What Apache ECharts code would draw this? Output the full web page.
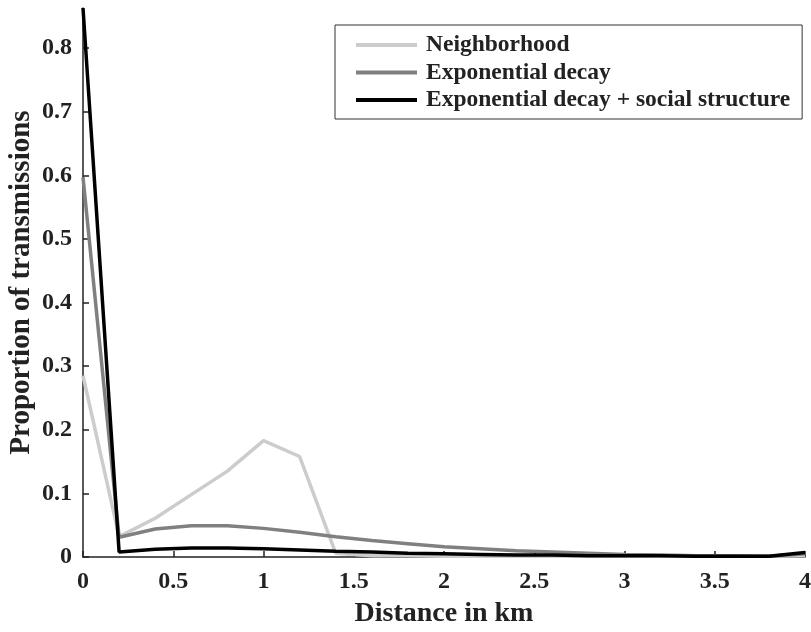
<!DOCTYPE html>
<html>
<head>
<meta charset="utf-8">
<script src="https://cdn.jsdelivr.net/npm/echarts@6/dist/echarts.min.js"></script>
<style>
  html, body { margin: 0; padding: 0; background: #fff; }
</style>
</head>
<body>
<div id="chart1" style="width:811px;height:632px;"></div>
<script>
// distance bins (km)
const distance = [0, 0.2, 0.4, 0.6, 0.8, 1.0, 1.2, 1.4, 1.6, 1.8, 2.0,
  2.2, 2.4, 2.6, 2.8, 3.0, 3.2, 3.4, 3.6, 3.8, 4.0];

// proportion of transmissions
const neighborhood = [0.285, 0.032, 0.061, 0.098, 0.135, 0.183, 0.158, 0.006, 0.002, 0.002,
  0.001, 0.001, 0.001, 0.001, 0.001, 0.001, 0.001, 0.001, 0.001, 0.001, 0.002];
const expDecay = [0.597, 0.031, 0.044, 0.049, 0.049, 0.045, 0.039, 0.032, 0.026, 0.021,
  0.016, 0.013, 0.010, 0.008, 0.006, 0.004, 0.003, 0.002, 0.002, 0.001, 0.005];
const expDecaySocial = [0.863, 0.008, 0.012, 0.014, 0.014, 0.013, 0.011, 0.009, 0.008, 0.006,
  0.005, 0.004, 0.003, 0.003, 0.002, 0.002, 0.002, 0.001, 0.001, 0.001, 0.007];

const seriesNames = ['Neighborhood', 'Exponential decay', 'Exponential decay + social structure'];
const yTicks = [0, 0.1, 0.2, 0.3, 0.4, 0.5, 0.6, 0.7, 0.8];

const font = "'Liberation Serif', 'Times New Roman', serif";
const ink = '#222';

function pairs(ys) {
  return distance.map((x, i) => [x, ys[i]]);
}

const chart = echarts.init(document.getElementById('chart1'));
chart.setOption({
  animation: false,
  grid: { left: 83, right: 6, top: 8, bottom: 75, outerBoundsMode: 'none', containLabel: false },
  legend: {
    orient: 'vertical',
    left: 335,
    top: 25,
    padding: [8, 12, 7, 21],
    itemGap: 3.5,
    itemWidth: 61,
    itemHeight: 4,
    icon: 'rect',
    borderColor: '#333',
    borderWidth: 1,
    backgroundColor: '#fff',
    textStyle: {
      fontFamily: font, fontWeight: 'bold', fontSize: 23.5, color: ink,
      lineHeight: 24, padding: [0, 0, 0, 4]
    },
    data: seriesNames
  },
  xAxis: {
    type: 'value',
    min: 0,
    max: 4,
    interval: 0.5,
    name: 'Distance in km',
    nameLocation: 'middle',
    nameGap: 57,
    nameMoveOverlap: false,
    nameTextStyle: { fontFamily: font, fontWeight: 'bold', fontSize: 28, color: ink, verticalAlign: 'middle' },
    axisLine: { lineStyle: { color: ink, width: 1.5 } },
    axisTick: { inside: true, length: 6, lineStyle: { color: ink, width: 1.5 } },
    axisLabel: { fontFamily: font, fontWeight: 'bold', fontSize: 24, color: ink, margin: 13 },
    splitLine: { show: false }
  },
  yAxis: {
    type: 'value',
    min: 0,
    max: 0.863,
    name: 'Proportion of transmissions',
    nameLocation: 'middle',
    nameGap: 61,
    nameMoveOverlap: false,
    nameRotate: 90,
    nameTextStyle: { fontFamily: font, fontWeight: 'bold', fontSize: 29, color: ink, verticalAlign: 'middle' },
    axisLine: { show: true, lineStyle: { color: ink, width: 1.5 } },
    axisTick: { show: true, inside: true, length: 6, customValues: yTicks, lineStyle: { color: ink, width: 1.5 } },
    axisLabel: { fontFamily: font, fontWeight: 'bold', fontSize: 24, color: ink, margin: 11, customValues: yTicks },
    splitLine: { show: false }
  },
  series: [
    {
      name: seriesNames[0], type: 'line', data: pairs(neighborhood),
      showSymbol: false, color: '#cccccc', lineStyle: { color: '#cccccc', width: 3.5 }
    },
    {
      name: seriesNames[1], type: 'line', data: pairs(expDecay),
      showSymbol: false, color: '#808080', lineStyle: { color: '#808080', width: 3.5 }
    },
    {
      name: seriesNames[2], type: 'line', data: pairs(expDecaySocial),
      showSymbol: false, color: '#000000', lineStyle: { color: '#000000', width: 3.5 }
    }
  ]
});
</script>
</body>
</html>
